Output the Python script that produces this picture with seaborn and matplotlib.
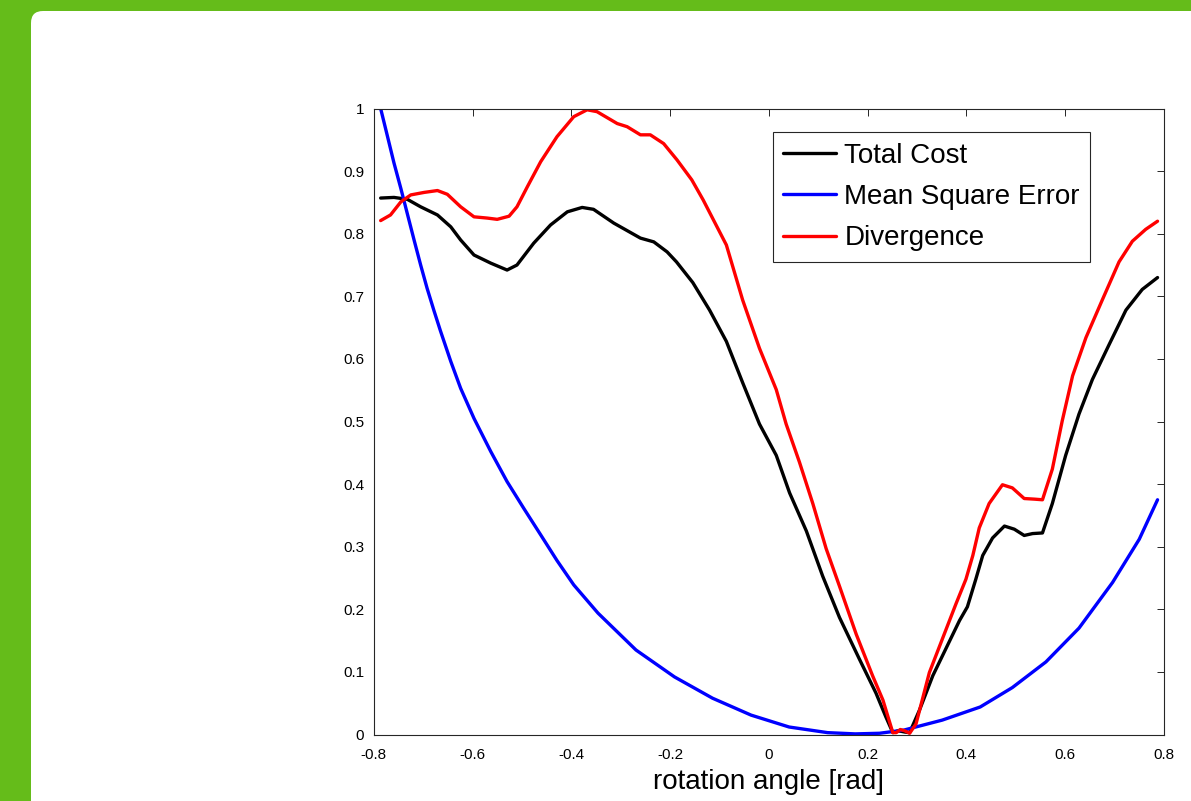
import pandas as pd
import matplotlib.pyplot as plt
import seaborn as sns
from matplotlib.patches import FancyBboxPatch
from matplotlib.transforms import IdentityTransform

# valores
angulo_total = [-0.786, -0.759, -0.732, -0.705, -0.671, -0.644, -0.624, -0.597, -0.563, -0.530,
                -0.510, -0.476, -0.442, -0.408, -0.378, -0.355, -0.314, -0.287, -0.260, -0.233,
                -0.206, -0.187, -0.154, -0.120, -0.086, -0.053, -0.019, 0.015, 0.042, 0.076,
                0.109, 0.143, 0.183, 0.217, 0.237, 0.251, 0.262, 0.275, 0.285, 0.305,
                0.332, 0.359, 0.386, 0.402, 0.419, 0.433, 0.453, 0.477, 0.497, 0.517,
                0.534, 0.554, 0.574, 0.601, 0.628, 0.655, 0.689, 0.723, 0.756, 0.787]
coste_total = [0.857, 0.858, 0.855, 0.843, 0.830, 0.811, 0.790, 0.766, 0.753, 0.742,
               0.750, 0.785, 0.814, 0.835, 0.842, 0.839, 0.817, 0.805, 0.793, 0.787,
               0.771, 0.755, 0.722, 0.678, 0.628, 0.562, 0.496, 0.446, 0.386, 0.325,
               0.253, 0.187, 0.121, 0.066, 0.028, 0.003, 0.006, 0.004, 0.003, 0.039,
               0.094, 0.138, 0.182, 0.204, 0.248, 0.286, 0.314, 0.333, 0.328, 0.318,
               0.321, 0.322, 0.369, 0.446, 0.512, 0.567, 0.623, 0.678, 0.711, 0.730]

angulo_mse = [-0.786, -0.772, -0.759, -0.745, -0.732, -0.718, -0.705, -0.692, -0.678, -0.665,
              -0.644, -0.624, -0.597, -0.563, -0.530, -0.496, -0.462, -0.429, -0.395, -0.346,
              -0.269, -0.191, -0.114, -0.036, 0.041, 0.119, 0.175, 0.224, 0.273, 0.351,
              0.428, 0.493, 0.561, 0.628, 0.696, 0.750, 0.787]
mse = [1.000, 0.955, 0.913, 0.872, 0.832, 0.789, 0.750, 0.713, 0.677, 0.645,
       0.596, 0.553, 0.505, 0.452, 0.404, 0.361, 0.319, 0.278, 0.239, 0.194,
       0.135, 0.092, 0.058, 0.031, 0.012, 0.003, 0.001, 0.002, 0.007, 0.023,
       0.044, 0.075, 0.116, 0.170, 0.243, 0.312, 0.375]

angulo_div = [-0.786, -0.766, -0.745, -0.725, -0.698, -0.671, -0.651, -0.624, -0.597, -0.570,
              -0.550, -0.526, -0.510, -0.489, -0.462, -0.429, -0.395, -0.368, -0.348, -0.307,
              -0.287, -0.260, -0.240, -0.213, -0.186, -0.156, -0.133, -0.086, -0.053, -0.019,
              0.015, 0.035, 0.062, 0.089, 0.116, 0.143, 0.177, 0.210, 0.231, 0.251,
              0.258, 0.266, 0.275, 0.285, 0.298, 0.325, 0.352, 0.379, 0.399, 0.413,
              0.426, 0.446, 0.473, 0.493, 0.517, 0.538, 0.554, 0.574, 0.594, 0.615,
              0.642, 0.675, 0.709, 0.736, 0.763, 0.787]
divergencia = [0.821, 0.830, 0.851, 0.862, 0.866, 0.869, 0.863, 0.843, 0.827, 0.825,
               0.823, 0.828, 0.843, 0.875, 0.915, 0.955, 0.987, 0.998, 0.995, 0.976,
               0.971, 0.958, 0.958, 0.944, 0.918, 0.886, 0.854, 0.782, 0.694, 0.617,
               0.551, 0.496, 0.435, 0.369, 0.297, 0.237, 0.160, 0.094, 0.055, 0.003,
               0.003, 0.008, 0.006, 0.002, 0.017, 0.099, 0.154, 0.209, 0.248, 0.286,
               0.330, 0.369, 0.399, 0.394, 0.377, 0.376, 0.375, 0.424, 0.501, 0.573,
               0.634, 0.694, 0.755, 0.788, 0.807, 0.820]

series = ['Total Cost', 'Mean Square Error', 'Divergence']
colores = ['#000000', '#0000ff', '#ff0000']
xticks = [-0.8, -0.6, -0.4, -0.2, 0, 0.2, 0.4, 0.6, 0.8]
yticks = [0, 0.1, 0.2, 0.3, 0.4, 0.5, 0.6, 0.7, 0.8, 0.9, 1]

# tabla larga para seaborn
df = pd.concat([
    pd.DataFrame({'angulo': angulo_total, 'valor': coste_total, 'serie': series[0]}),
    pd.DataFrame({'angulo': angulo_mse, 'valor': mse, 'serie': series[1]}),
    pd.DataFrame({'angulo': angulo_div, 'valor': divergencia, 'serie': series[2]}),
], ignore_index=True)

sns.set_style('white')
plt.rcParams['font.family'] = ['Liberation Sans', 'DejaVu Sans']
plt.rcParams['axes.unicode_minus'] = False
plt.rcParams['text.color'] = 'black'
plt.rcParams['axes.labelcolor'] = 'black'

fig = plt.figure(figsize=(11.91, 8.01), dpi=100, facecolor='#65bc1a')

# fondo blanco con esquina redondeada (debajo de los ejes)
fondo = FancyBboxPatch((31, -30), 1200, 820, boxstyle='round,pad=0,rounding_size=12',
                       transform=IdentityTransform(), facecolor='white', edgecolor='none',
                       zorder=-10)
fig.patches.append(fondo)

ax = fig.add_axes([0.3138, 0.0830, 0.6635, 0.7815])
sns.lineplot(data=df, x='angulo', y='valor', hue='serie', hue_order=series,
             palette=colores, estimator=None, sort=True, linewidth=2.4, ax=ax)

ax.set_xlim(-0.8, 0.8)
ax.set_ylim(0, 1)
ax.set_xticks(xticks)
ax.set_xticklabels(['-0.8', '-0.6', '-0.4', '-0.2', '0', '0.2', '0.4', '0.6', '0.8'])
ax.set_yticks(yticks)
ax.set_yticklabels(['0', '0.1', '0.2', '0.3', '0.4', '0.5', '0.6', '0.7', '0.8', '0.9', '1'])
ax.tick_params(direction='in', length=5, width=0.7, colors='#262626', labelcolor='black',
               labelsize=11, top=True, right=True)
ax.tick_params(axis='x', pad=10)
ax.tick_params(axis='y', pad=7)
for s in ax.spines.values():
    s.set_color('#262626')
    s.set_linewidth(0.8)
ax.set_xlabel('rotation angle [rad]', fontsize=20, labelpad=5, color='black')
ax.set_ylabel('')

leg = ax.legend(loc='upper right', bbox_to_anchor=(0.907, 0.962), fontsize=20,
                frameon=True, fancybox=False, framealpha=1, handlelength=1.9,
                handletextpad=0.3, labelspacing=0.55, borderpad=0.38, borderaxespad=0)
leg.get_frame().set_edgecolor('#262626')
leg.get_frame().set_linewidth(0.8)
for t in leg.get_texts():
    t.set_color('black')

fig.savefig('out.png', dpi=100, facecolor=fig.get_facecolor())
